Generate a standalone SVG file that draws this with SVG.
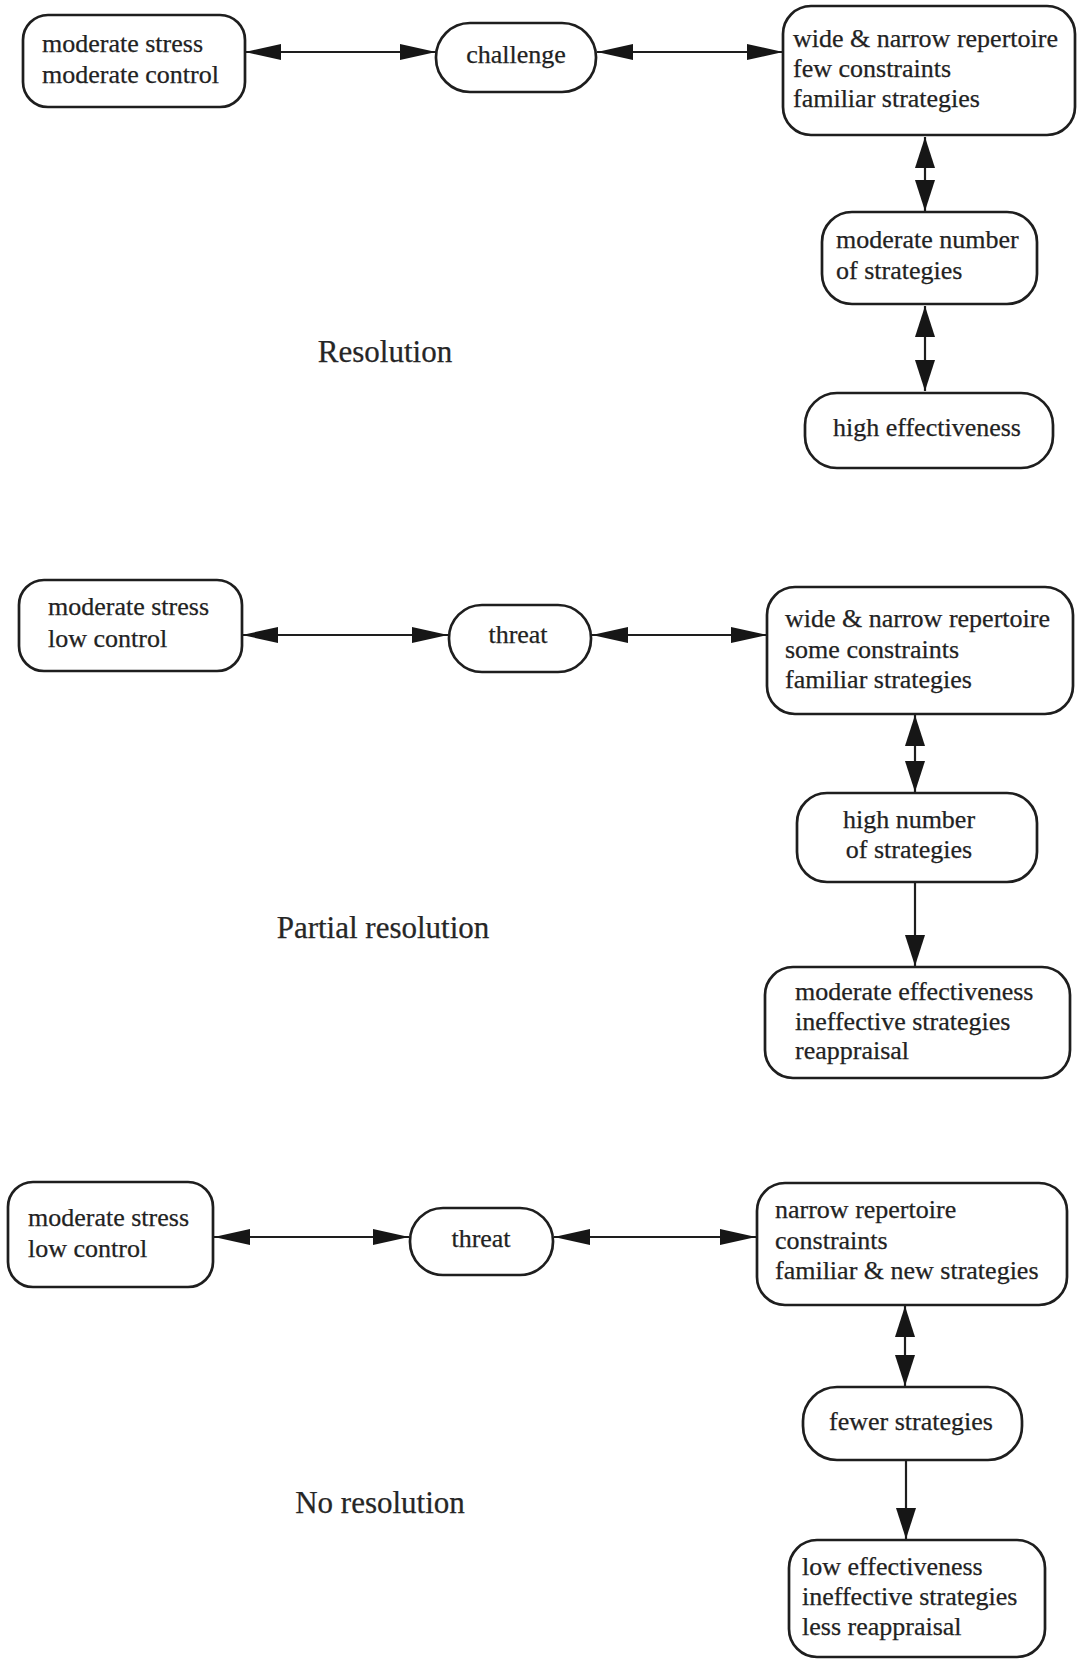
<svg xmlns="http://www.w3.org/2000/svg" width="1077" height="1661" viewBox="0 0 1077 1661">
  <style>
    .box { fill: #ffffff; stroke: #1e1e1e; stroke-width: 2.7; }
    .t { font-family: "Liberation Serif", "Times New Roman", serif; font-size: 26px; fill: #222222; stroke: #222222; stroke-width: 0.25; }
    .lbl { font-family: "Liberation Serif", "Times New Roman", serif; font-size: 31px; fill: #262626; stroke: #262626; stroke-width: 0.25; }
    .c { stroke: #1e1e1e; stroke-width: 2.2; fill: none; }
    .two { marker-start: url(#ah); marker-end: url(#ah); }
    .vtwo { marker-start: url(#ahv); marker-end: url(#ahv); }
    .vone { marker-end: url(#ahv); }
  </style>
  <defs>
    <!-- horizontal arrowhead: long narrow triangle -->
    <marker id="ah" markerUnits="userSpaceOnUse" markerWidth="36" markerHeight="18" refX="36" refY="9" orient="auto-start-reverse">
      <path d="M0,1 L36,9 L0,17 z" fill="#161616"/>
    </marker>
    <!-- vertical arrowhead: shorter and wider -->
    <marker id="ahv" markerUnits="userSpaceOnUse" markerWidth="31" markerHeight="22" refX="31" refY="11" orient="auto-start-reverse">
      <path d="M0,1 L31,11 L0,21 z" fill="#161616"/>
    </marker>
  </defs>

  <rect width="1077" height="1661" fill="#ffffff"/>

  <!-- connectors -->
  <g id="connectors">
    <!-- Resolution -->
    <line class="c two" x1="245" y1="52" x2="436" y2="52"/>
    <line class="c two" x1="597" y1="52" x2="783" y2="52"/>
    <line class="c vtwo" x1="925" y1="137" x2="925" y2="211"/>
    <line class="c vtwo" x1="925" y1="306" x2="925" y2="391"/>
    <!-- Partial resolution -->
    <line class="c two" x1="242" y1="635" x2="448" y2="635"/>
    <line class="c two" x1="592" y1="635" x2="767" y2="635"/>
    <line class="c vtwo" x1="915" y1="715" x2="915" y2="792"/>
    <line class="c vone" x1="915" y1="883" x2="915" y2="966"/>
    <!-- No resolution -->
    <line class="c two" x1="214" y1="1237" x2="409" y2="1237"/>
    <line class="c two" x1="554" y1="1237" x2="756" y2="1237"/>
    <line class="c vtwo" x1="905" y1="1306" x2="905" y2="1386"/>
    <line class="c vone" x1="906" y1="1461" x2="906" y2="1539"/>
  </g>

  <!-- Resolution -->
  <g id="r-stress">
    <rect class="box" x="23" y="15" width="222" height="92" rx="25"/>
    <text class="t" x="42" y="52">moderate stress</text>
    <text class="t" x="42" y="83">moderate control</text>
  </g>
  <g id="r-challenge">
    <rect class="box" x="436" y="23" width="160" height="69" rx="34"/>
    <text class="t" x="516" y="63" text-anchor="middle">challenge</text>
  </g>
  <g id="r-repertoire">
    <rect class="box" x="783" y="6" width="292" height="129" rx="28"/>
    <text class="t" x="793" y="47">wide &amp; narrow repertoire</text>
    <text class="t" x="793" y="77">few constraints</text>
    <text class="t" x="793" y="107">familiar strategies</text>
  </g>
  <g id="r-number">
    <rect class="box" x="822" y="212" width="215" height="92" rx="30"/>
    <text class="t" x="836" y="248">moderate number</text>
    <text class="t" x="836" y="279">of strategies</text>
  </g>
  <g id="r-effect">
    <rect class="box" x="805" y="393" width="248" height="75" rx="32"/>
    <text class="t" x="833" y="436">high effectiveness</text>
  </g>
  <text id="label-resolution" class="lbl" x="385" y="362" text-anchor="middle">Resolution</text>

  <!-- Partial resolution -->
  <g id="p-stress">
    <rect class="box" x="19" y="580" width="223" height="91" rx="25"/>
    <text class="t" x="48" y="615">moderate stress</text>
    <text class="t" x="48" y="647">low control</text>
  </g>
  <g id="p-threat">
    <rect class="box" x="449" y="605" width="142" height="67" rx="33"/>
    <text class="t" x="518" y="643" text-anchor="middle">threat</text>
  </g>
  <g id="p-repertoire">
    <rect class="box" x="767" y="587" width="306" height="127" rx="28"/>
    <text class="t" x="785" y="627">wide &amp; narrow repertoire</text>
    <text class="t" x="785" y="658">some constraints</text>
    <text class="t" x="785" y="688">familiar strategies</text>
  </g>
  <g id="p-number">
    <rect class="box" x="797" y="793" width="240" height="89" rx="30"/>
    <text class="t" x="909" y="828" text-anchor="middle">high number</text>
    <text class="t" x="909" y="858" text-anchor="middle">of strategies</text>
  </g>
  <g id="p-effect">
    <rect class="box" x="765" y="967" width="305" height="111" rx="28"/>
    <text class="t" x="795" y="1000">moderate effectiveness</text>
    <text class="t" x="795" y="1030">ineffective strategies</text>
    <text class="t" x="795" y="1059">reappraisal</text>
  </g>
  <text id="label-partial" class="lbl" x="383" y="938" text-anchor="middle">Partial resolution</text>

  <!-- No resolution -->
  <g id="n-stress">
    <rect class="box" x="8" y="1182" width="205" height="105" rx="25"/>
    <text class="t" x="28" y="1226">moderate stress</text>
    <text class="t" x="28" y="1257">low control</text>
  </g>
  <g id="n-threat">
    <rect class="box" x="410" y="1208" width="143" height="67" rx="33"/>
    <text class="t" x="481" y="1247" text-anchor="middle">threat</text>
  </g>
  <g id="n-repertoire">
    <rect class="box" x="757" y="1183" width="310" height="122" rx="28"/>
    <text class="t" x="775" y="1218">narrow repertoire</text>
    <text class="t" x="775" y="1249">constraints</text>
    <text class="t" x="775" y="1279">familiar &amp; new strategies</text>
  </g>
  <g id="n-number">
    <rect class="box" x="803" y="1387" width="219" height="73" rx="34"/>
    <text class="t" x="911" y="1430" text-anchor="middle">fewer strategies</text>
  </g>
  <g id="n-effect">
    <rect class="box" x="789" y="1540" width="256" height="117" rx="28"/>
    <text class="t" x="802" y="1575">low effectiveness</text>
    <text class="t" x="802" y="1605">ineffective strategies</text>
    <text class="t" x="802" y="1635">less reappraisal</text>
  </g>
  <text id="label-none" class="lbl" x="380" y="1513" text-anchor="middle">No resolution</text>
</svg>
